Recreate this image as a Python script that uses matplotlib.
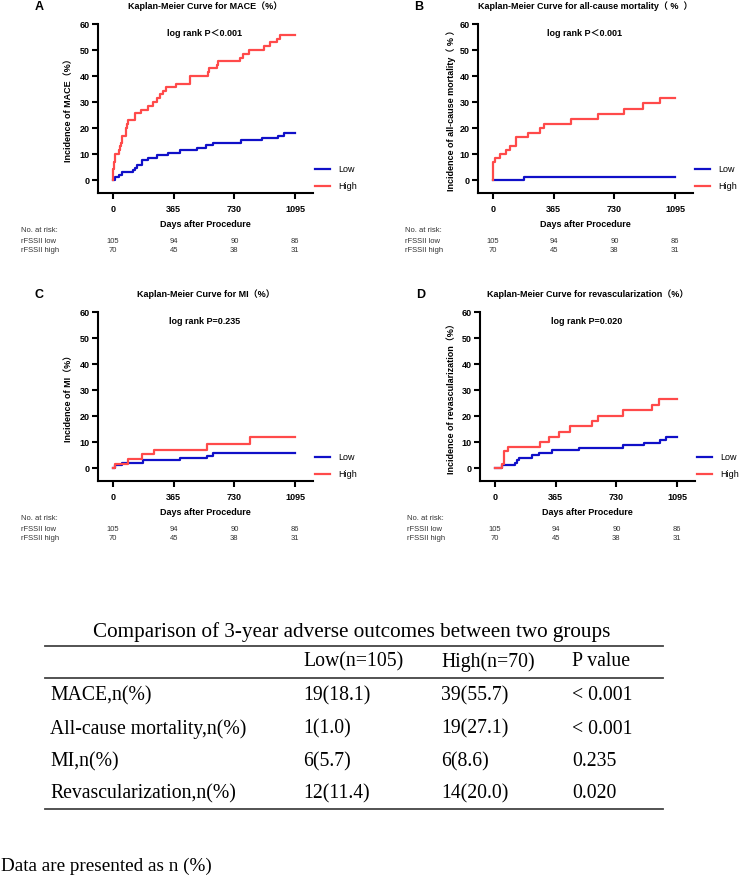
import matplotlib
matplotlib.use("Agg")
import matplotlib.pyplot as plt
from matplotlib.lines import Line2D
import matplotlib.transforms as mtransforms

plt.rcParams['font.family'] = ['Liberation Sans', 'Noto Sans CJK SC', 'DejaVu Sans']

# ---- KM data (days, cumulative incidence %) ----
mace_low_days = [0, 10, 34, 56, 121, 131, 145, 177, 211, 262, 332, 403, 507, 560, 604, 769, 896, 992, 1027, 1095]
mace_low_pct = [0, 1.0, 1.9, 2.9, 3.8, 4.8, 5.7, 7.6, 8.6, 9.5, 10.5, 11.4, 12.4, 13.3, 14.3, 15.2, 16.2, 17.1, 18.1, 18.1]
mace_high_days = [0, 2, 4, 14, 34, 44, 50, 56, 76, 86, 91, 131, 171, 211, 242, 262, 282, 302, 316, 382, 463,
                  574, 580, 624, 634, 765, 781, 821, 906, 946, 986, 1002, 1095]
mace_high_pct = [0, 4.3, 7.1, 10.0, 11.4, 12.9, 14.3, 17.1, 20.0, 21.4, 22.9, 25.7, 27.1, 28.6, 30.0, 31.4, 32.9,
                 34.3, 35.7, 37.1, 40.0, 41.4, 42.9, 44.3, 45.7, 47.1, 48.6, 50.0, 51.4, 52.9, 54.3, 55.7, 55.7]

mort_low_days = [0, 185, 1095]
mort_low_pct = [0, 1.0, 1.0]
mort_high_days = [0, 1, 3, 14, 44, 81, 101, 141, 213, 282, 306, 471, 632, 789, 902, 1002, 1095]
mort_high_pct = [0, 4.3, 7.1, 8.6, 10.0, 11.4, 13.0, 16.5, 18.2, 20.0, 21.5, 23.4, 25.3, 27.3, 29.5, 31.6, 31.6]

mi_low_days = [0, 10, 56, 181, 403, 564, 604, 1095]
mi_low_pct = [0, 1.0, 1.9, 2.9, 3.8, 4.8, 5.9, 5.9]
mi_high_days = [0, 10, 91, 177, 248, 568, 825, 1095]
mi_high_pct = [0, 1.4, 3.3, 5.3, 7.1, 9.3, 11.8, 11.8]

rev_low_days = [0, 40, 119, 135, 145, 221, 266, 342, 507, 773, 894, 994, 1027, 1095]
rev_low_pct = [0, 1.0, 1.9, 2.9, 3.8, 4.9, 5.8, 6.8, 7.8, 8.8, 9.8, 10.8, 11.8, 11.8]
rev_high_days = [0, 40, 56, 81, 270, 326, 387, 451, 584, 620, 773, 946, 986, 1095]
rev_high_pct = [0, 1.4, 6.4, 8.2, 10.0, 12.0, 14.0, 16.0, 18.0, 20.0, 22.2, 24.4, 26.7, 26.7]

risk_times = [0, 365, 730, 1095]
risk_low = [105, 94, 90, 86]
risk_high = [70, 45, 38, 31]

letters = ['A', 'B', 'C', 'D']
titles = ['Kaplan-Meier Curve for MACE（%）',
          'Kaplan-Meier Curve for all-cause mortality（ %  ）',
          'Kaplan-Meier Curve for MI（%）',
          'Kaplan-Meier Curve for revascularization（%）']
ylabels = ['Incidence of MACE（%）',
           'Incidence of all-cause mortality（ % ）',
           'Incidence of MI（%）',
           'Incidence of revascularization（%）']
pvals = ['log rank P＜0.001', 'log rank P＜0.001', 'log rank P=0.235', 'log rank P=0.020']

# ---- table data ----
tab_title = 'Comparison of 3-year adverse outcomes between two groups'
tab_header = ['Low(n=105)', 'High(n=70)', 'P value']
tab_rows = ['MACE,n(%)', 'All-cause mortality,n(%)', 'MI,n(%)', 'Revascularization,n(%)']
tab_low = ['19(18.1)', '1(1.0)', '6(5.7)', '12(11.4)']
tab_high = ['39(55.7)', '19(27.1)', '6(8.6)', '14(20.0)']
tab_p = ['< 0.001', '< 0.001', '0.235', '0.020']

BLUE = '#1010C8'
RED = '#FF4A4A'
W, H = 740, 881

fig = plt.figure(figsize=(7.4, 8.81), dpi=100)

curves = [(mace_low_days, mace_low_pct, mace_high_days, mace_high_pct),
          (mort_low_days, mort_low_pct, mort_high_days, mort_high_pct),
          (mi_low_days, mi_low_pct, mi_high_days, mi_high_pct),
          (rev_low_days, rev_low_pct, rev_high_days, rev_high_pct)]

# pixel boxes: left, top
boxes = [(98, 24), (478, 24), (98, 312), (480, 312)]
ylab_x = [-0.116, -0.10, -0.116, -0.11]
risk_lab_x = [-0.358, -0.34, -0.358, -0.34]

for i in range(4):
    left, top = boxes[i]
    ax = fig.add_axes([left / W, 1 - (top + 169) / H, 215 / W, 169 / H])
    ld, lp, hd, hp = curves[i]
    ax.step(ld, lp, where='post', color=BLUE, lw=1.6, label='Low')
    ax.step(hd, hp, where='post', color=RED, lw=1.6, label='High')
    ax.set_xlim(-90, 1203)
    ax.set_ylim(-5, 60)
    ax.set_xticks(risk_times)
    ax.set_yticks(range(0, 61, 10))
    for s in ['top', 'right']:
        ax.spines[s].set_visible(False)
    for s in ['left', 'bottom']:
        ax.spines[s].set_linewidth(1.5)
    ax.tick_params(width=1.5, length=4, labelsize=6.5, pad=2)
    ax.tick_params(axis='x', pad=5)
    for lbl in ax.get_xticklabels() + ax.get_yticklabels():
        lbl.set_fontweight('bold')
    ax.set_xlabel('Days after Procedure', fontsize=6.5, fontweight='bold', labelpad=4)
    ax.set_ylabel(ylabels[i], fontsize=6.5, fontweight='bold')
    ax.yaxis.set_label_coords(ylab_x[i], 0.5)
    ax.text(0.5, 1.107, titles[i], transform=ax.transAxes, ha='center', va='center',
            fontsize=6.5, fontweight='bold')
    ax.text(-0.275, 1.1, letters[i], transform=ax.transAxes, ha='center', va='center',
            fontsize=9, fontweight='bold')
    ax.text(550, 56.4, pvals[i], ha='center', va='center', fontsize=6.5, fontweight='bold')
    ax.legend(loc='center left', bbox_to_anchor=(1.01, 0.087), frameon=False, fontsize=6.5,
              handlelength=1.7, handletextpad=0.9, labelspacing=0.85, borderpad=0, borderaxespad=0)

    # number at risk
    tr = mtransforms.blended_transform_factory(ax.transData, ax.transAxes)
    ax.text(risk_lab_x[i], -0.222, 'No. at risk:', transform=ax.transAxes, fontsize=5.5,
            color='#333333', va='center', ha='left')
    ax.text(risk_lab_x[i], -0.285, 'rFSSII low', transform=ax.transAxes, fontsize=5.5,
            color='#333333', va='center', ha='left')
    ax.text(risk_lab_x[i], -0.338, 'rFSSII high', transform=ax.transAxes, fontsize=5.5,
            color='#333333', va='center', ha='left')
    for t, nl, nh in zip(risk_times, risk_low, risk_high):
        ax.text(t, -0.285, str(nl), transform=tr, fontsize=5.5, color='#333333', ha='center', va='center')
        ax.text(t, -0.338, str(nh), transform=tr, fontsize=5.5, color='#333333', ha='center', va='center')

# ---- comparison table ----
serif = ['Liberation Serif', 'DejaVu Serif']
fs = 14.2


def fy(py):
    return 1 - py / H


fig.text(352 / W, fy(632), tab_title, ha='center', va='center', fontsize=15.2, family=serif)
for py in [646, 678, 809]:
    fig.add_artist(Line2D([45 / W, 663 / W], [fy(py), fy(py)], color='#444444', lw=1.3))

col_x = [50, 303, 441, 572]
fig.text(col_x[1] / W, fy(662), tab_header[0], ha='left', va='center', fontsize=fs, family=serif)
fig.text(col_x[2] / W, fy(662), tab_header[1], ha='left', va='center', fontsize=fs, family=serif)
fig.text(col_x[3] / W, fy(662), tab_header[2], ha='left', va='center', fontsize=fs, family=serif)

row_y = [696, 729, 762, 794]
for r, lo, hi, p, py in zip(tab_rows, tab_low, tab_high, tab_p, row_y):
    fig.text(col_x[0] / W, fy(py), r, ha='left', va='center', fontsize=fs, family=serif)
    fig.text(col_x[1] / W, fy(py), lo, ha='left', va='center', fontsize=fs, family=serif)
    fig.text(col_x[2] / W, fy(py), hi, ha='left', va='center', fontsize=fs, family=serif)
    fig.text(col_x[3] / W, fy(py), p, ha='left', va='center', fontsize=fs, family=serif)

fig.text(1 / W, fy(866), 'Data are presented as n (%)', ha='left', va='center', fontsize=13.8, family=serif)

fig.savefig('out.png', dpi=100)
